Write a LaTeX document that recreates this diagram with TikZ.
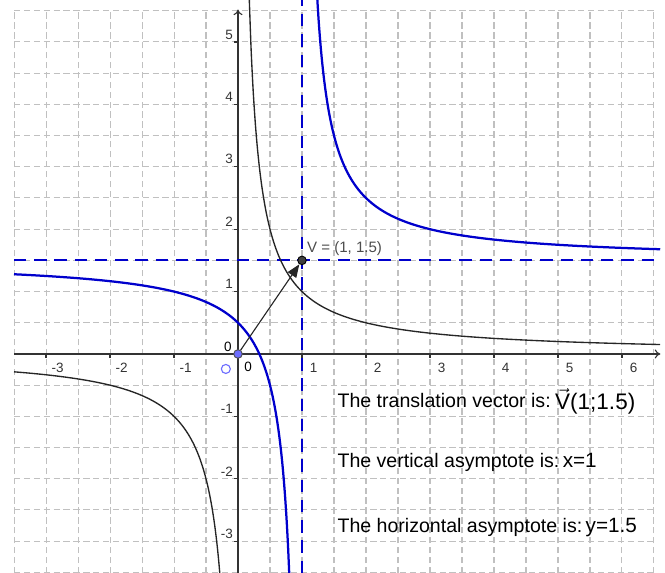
\documentclass[tikz,border=0pt]{standalone}
\usepackage{fontspec}
\setmainfont{Liberation Sans}
\usetikzlibrary{arrows.meta}
\definecolor{ggblue}{RGB}{0,0,204}
\definecolor{gggrid}{RGB}{192,192,192}
\definecolor{ggpoint}{RGB}{110,110,255}

\begin{document}
\begin{tikzpicture}[x=1cm,y=0.975cm,line width=0.5pt,
  gridline/.style={gggrid,line width=0.45pt,dash pattern=on 2.8pt off 1.6pt},
  asym/.style={ggblue,line width=0.9pt,dash pattern=on 5.5pt off 3.5pt},
  hyperA/.style={black!85,line width=0.6pt},
  hyperB/.style={ggblue,line width=1pt},
  ticklbl/.style={font=\fontsize{6}{7}\selectfont,inner sep=0pt},
  note/.style={font=\fontsize{8.7}{10}\selectfont,anchor=base west,inner sep=0pt}]
  \useasboundingbox (-3.719,-3.51) rectangle (6.672,5.673);

  % grid
  \foreach \gx in {-3.5,-3,...,6.5}
    \draw[gridline] (\gx,-3.51) -- (\gx,5.5);
  \foreach \gy in {-3.5,-3,...,5.5}
    \draw[gridline] (-3.5,\gy) -- (6.5,\gy);

  % axes
  \draw[black!80,-{To[length=2.5pt,width=4pt]}] (-3.5,0) -- (6.6,0);
  \draw[black!80,-{To[length=2.5pt,width=4pt]}] (0,-3.51) -- (0,5.52);
  \foreach \k in {-3,-2,-1,1,2,3,4,5,6}
    \draw[black!80] (\k,0) -- (\k,-0.06) node[ticklbl] at (\k+0.18,-0.22) {\k};
  \foreach \k in {-3,-2,-1,1,2,3,4,5}
    \draw[black!80] (0,\k) -- (-0.06,\k) node[ticklbl,anchor=east] at (-0.07,\k+0.12) {\k};
  \node[ticklbl] (zeroA) at (-0.16,0.11) {0};
  \node[ticklbl] (zeroB) at (0.16,-0.21) {0};

  % asymptotes
  \draw[asym] (-3.5,1.5) -- (6.6,1.5);
  \draw[asym] (1,-3.51) -- (1,5.673);

  % curves
  \begin{scope}
    \clip (-3.719,-3.51) rectangle (6.672,5.673);
    \draw[hyperA] plot[domain=0.172:6.6,samples=200,smooth] (\x,{1/\x});
    \draw[hyperA] plot[domain=-3.5:-0.28,samples=200,smooth] (\x,{1/\x});
    \draw[hyperB] plot[domain=1.232:6.6,samples=200,smooth] (\x,{1/(\x-1)+1.5});
    \draw[hyperB] plot[domain=-3.5:0.805,samples=200,smooth] (\x,{1/(\x-1)+1.5});
  \end{scope}

  % points and vector
  \node[circle,fill=ggpoint,draw=black!70,line width=0.4pt,inner sep=0pt,minimum size=3.8pt] (O) at (0,0) {};
  \node[circle,fill=black!75,draw=black,line width=0.4pt,inner sep=0pt,minimum size=3.8pt] (V) at (1,1.5) {};
  \node[circle,draw=ggpoint,line width=0.5pt,inner sep=0pt,minimum size=4pt] (Ohat) at (-0.19,-0.24) {};
  \draw[black!85,-{Triangle[length=5.8pt,width=4.5pt]}] (O) -- (V);
  \node[font=\fontsize{6.7}{8}\selectfont,text=black!70,anchor=west,inner sep=0pt] (Vlbl) at (1.07,1.69) {V = (1, 1.5)};

  % notes
  \node[note] (tvec) at (1.547,-0.85) {The translation vector is:\hspace{2pt}\raisebox{-1.3pt}{\fontsize{10}{12}\selectfont$\vec{\mbox{V}}$(1;1.5)}};
  \node[note] (tvert) at (1.547,-1.827) {The vertical asymptote is:\hspace{1.5pt}{\fontsize{9.2}{11}\selectfont x=1}};
  \node[note] (thor) at (1.547,-2.853) {The horizontal asymptote is:\hspace{1.5pt}{\fontsize{9.2}{11}\selectfont y=1.5}};
\end{tikzpicture}
\end{document}
